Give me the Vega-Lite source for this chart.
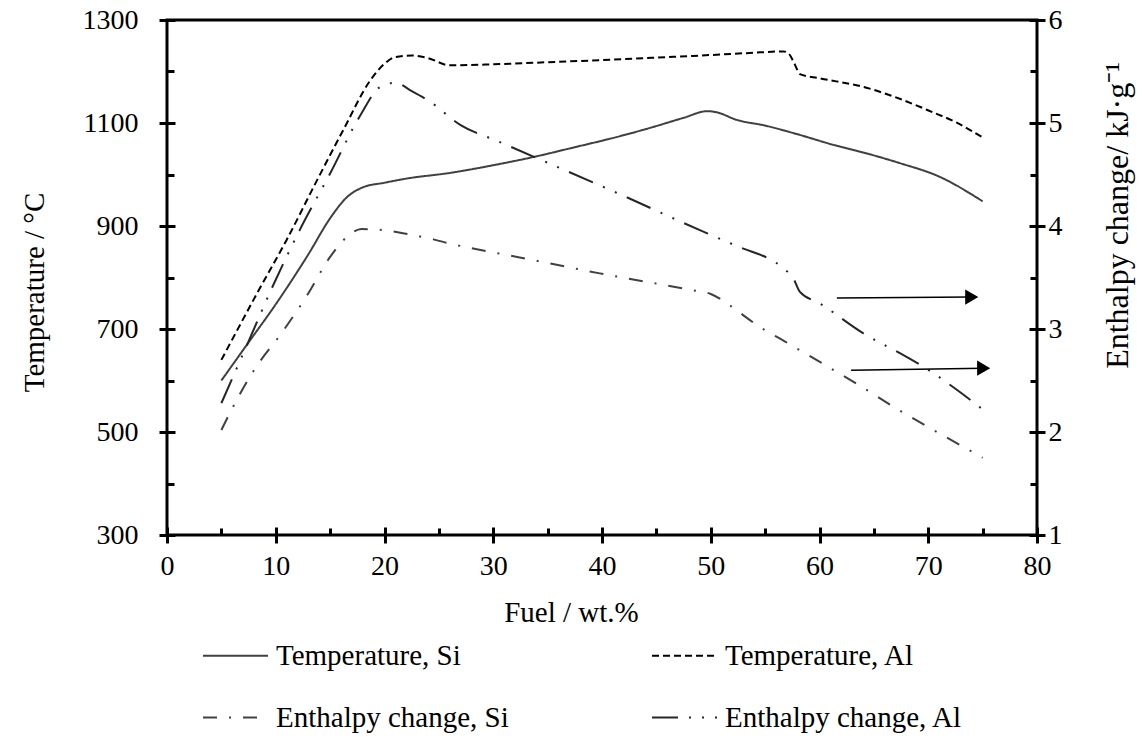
{
  "$schema": "https://vega.github.io/schema/vega-lite/v6.json",
  "width": 870,
  "height": 515,
  "autosize": {"type": "none"},
  "padding": {"left": 167, "top": 20, "right": 105, "bottom": 212},
  "background": "white",
  "config": {
    "view": {"stroke": "black", "strokeWidth": 3},
    "font": "Liberation Serif, Times New Roman, serif",
    "axis": {
      "grid": false,
      "domain": false,
      "tickColor": "black",
      "tickWidth": 3,
      "labelColor": "black",
      "titleColor": "black",
      "labelFont": "Liberation Serif, Times New Roman, serif",
      "titleFont": "Liberation Serif, Times New Roman, serif",
      "labelFontSize": 28,
      "titleFontSize": 29,
      "titleFontWeight": "normal",
      "labelFlush": false,
      "format": "d"
    },
    "legend": {
      "labelFont": "Liberation Serif, Times New Roman, serif",
      "labelFontSize": 29,
      "labelColor": "black",
      "labelLimit": 400
    }
  },
  "data": {
    "values": [
      {"m": "T", "s": "Temperature, Si", "x": 5, "v": 600},
      {"m": "T", "s": "Temperature, Si", "x": 7.5, "v": 674},
      {"m": "T", "s": "Temperature, Si", "x": 10, "v": 748},
      {"m": "T", "s": "Temperature, Si", "x": 13, "v": 845},
      {"m": "T", "s": "Temperature, Si", "x": 15, "v": 915},
      {"m": "T", "s": "Temperature, Si", "x": 16.5, "v": 955},
      {"m": "T", "s": "Temperature, Si", "x": 18, "v": 975},
      {"m": "T", "s": "Temperature, Si", "x": 20, "v": 984},
      {"m": "T", "s": "Temperature, Si", "x": 22, "v": 992},
      {"m": "T", "s": "Temperature, Si", "x": 26, "v": 1003},
      {"m": "T", "s": "Temperature, Si", "x": 30, "v": 1018},
      {"m": "T", "s": "Temperature, Si", "x": 33.7, "v": 1034},
      {"m": "T", "s": "Temperature, Si", "x": 37.5, "v": 1053},
      {"m": "T", "s": "Temperature, Si", "x": 41.4, "v": 1073},
      {"m": "T", "s": "Temperature, Si", "x": 44.5, "v": 1091},
      {"m": "T", "s": "Temperature, Si", "x": 47.5, "v": 1110},
      {"m": "T", "s": "Temperature, Si", "x": 49.7, "v": 1123},
      {"m": "T", "s": "Temperature, Si", "x": 50.5, "v": 1121},
      {"m": "T", "s": "Temperature, Si", "x": 52.4, "v": 1106},
      {"m": "T", "s": "Temperature, Si", "x": 55, "v": 1095},
      {"m": "T", "s": "Temperature, Si", "x": 58, "v": 1078},
      {"m": "T", "s": "Temperature, Si", "x": 61.2, "v": 1058},
      {"m": "T", "s": "Temperature, Si", "x": 64.5, "v": 1040},
      {"m": "T", "s": "Temperature, Si", "x": 67.4, "v": 1022},
      {"m": "T", "s": "Temperature, Si", "x": 71, "v": 996},
      {"m": "T", "s": "Temperature, Si", "x": 75, "v": 948},

      {"m": "T", "s": "Temperature, Al", "x": 5, "v": 640},
      {"m": "T", "s": "Temperature, Al", "x": 8.3, "v": 770},
      {"m": "T", "s": "Temperature, Al", "x": 11, "v": 873},
      {"m": "T", "s": "Temperature, Al", "x": 13.8, "v": 989},
      {"m": "T", "s": "Temperature, Al", "x": 16.2, "v": 1086},
      {"m": "T", "s": "Temperature, Al", "x": 18.7, "v": 1183},
      {"m": "T", "s": "Temperature, Al", "x": 20, "v": 1215},
      {"m": "T", "s": "Temperature, Al", "x": 21, "v": 1228},
      {"m": "T", "s": "Temperature, Al", "x": 22.5, "v": 1231},
      {"m": "T", "s": "Temperature, Al", "x": 24, "v": 1226},
      {"m": "T", "s": "Temperature, Al", "x": 26, "v": 1212},
      {"m": "T", "s": "Temperature, Al", "x": 30, "v": 1214},
      {"m": "T", "s": "Temperature, Al", "x": 35, "v": 1218},
      {"m": "T", "s": "Temperature, Al", "x": 39.8, "v": 1222},
      {"m": "T", "s": "Temperature, Al", "x": 45, "v": 1227},
      {"m": "T", "s": "Temperature, Al", "x": 50, "v": 1232},
      {"m": "T", "s": "Temperature, Al", "x": 53.6, "v": 1236},
      {"m": "T", "s": "Temperature, Al", "x": 56.7, "v": 1239},
      {"m": "T", "s": "Temperature, Al", "x": 57.2, "v": 1234},
      {"m": "T", "s": "Temperature, Al", "x": 57.7, "v": 1215},
      {"m": "T", "s": "Temperature, Al", "x": 58.2, "v": 1195},
      {"m": "T", "s": "Temperature, Al", "x": 60, "v": 1187},
      {"m": "T", "s": "Temperature, Al", "x": 64.4, "v": 1168},
      {"m": "T", "s": "Temperature, Al", "x": 67.5, "v": 1146},
      {"m": "T", "s": "Temperature, Al", "x": 70.4, "v": 1121},
      {"m": "T", "s": "Temperature, Al", "x": 72.5, "v": 1102},
      {"m": "T", "s": "Temperature, Al", "x": 75, "v": 1072},

      {"m": "E", "s": "Enthalpy change, Si", "x": 5, "v": 2.02},
      {"m": "E", "s": "Enthalpy change, Si", "x": 6.1, "v": 2.25},
      {"m": "E", "s": "Enthalpy change, Si", "x": 8, "v": 2.6},
      {"m": "E", "s": "Enthalpy change, Si", "x": 10.6, "v": 2.97},
      {"m": "E", "s": "Enthalpy change, Si", "x": 12.9, "v": 3.33},
      {"m": "E", "s": "Enthalpy change, Si", "x": 15, "v": 3.7},
      {"m": "E", "s": "Enthalpy change, Si", "x": 16.5, "v": 3.89},
      {"m": "E", "s": "Enthalpy change, Si", "x": 17.9, "v": 3.97},
      {"m": "E", "s": "Enthalpy change, Si", "x": 19.9, "v": 3.96},
      {"m": "E", "s": "Enthalpy change, Si", "x": 21.7, "v": 3.93},
      {"m": "E", "s": "Enthalpy change, Si", "x": 24.5, "v": 3.87},
      {"m": "E", "s": "Enthalpy change, Si", "x": 26, "v": 3.83},
      {"m": "E", "s": "Enthalpy change, Si", "x": 32.2, "v": 3.7},
      {"m": "E", "s": "Enthalpy change, Si", "x": 39.8, "v": 3.54},
      {"m": "E", "s": "Enthalpy change, Si", "x": 48.1, "v": 3.38},
      {"m": "E", "s": "Enthalpy change, Si", "x": 50, "v": 3.34},
      {"m": "E", "s": "Enthalpy change, Si", "x": 51.2, "v": 3.27},
      {"m": "E", "s": "Enthalpy change, Si", "x": 52.4, "v": 3.18},
      {"m": "E", "s": "Enthalpy change, Si", "x": 54.5, "v": 3.02},
      {"m": "E", "s": "Enthalpy change, Si", "x": 56.8, "v": 2.88},
      {"m": "E", "s": "Enthalpy change, Si", "x": 60.2, "v": 2.67},
      {"m": "E", "s": "Enthalpy change, Si", "x": 63.7, "v": 2.45},
      {"m": "E", "s": "Enthalpy change, Si", "x": 67.2, "v": 2.22},
      {"m": "E", "s": "Enthalpy change, Si", "x": 70.8, "v": 2.0},
      {"m": "E", "s": "Enthalpy change, Si", "x": 75, "v": 1.75},

      {"m": "E", "s": "Enthalpy change, Al", "x": 5, "v": 2.28},
      {"m": "E", "s": "Enthalpy change, Al", "x": 7.5, "v": 2.88},
      {"m": "E", "s": "Enthalpy change, Al", "x": 9.7, "v": 3.41},
      {"m": "E", "s": "Enthalpy change, Al", "x": 12.2, "v": 3.96},
      {"m": "E", "s": "Enthalpy change, Al", "x": 15, "v": 4.51},
      {"m": "E", "s": "Enthalpy change, Al", "x": 17.7, "v": 5.06},
      {"m": "E", "s": "Enthalpy change, Al", "x": 19.6, "v": 5.35},
      {"m": "E", "s": "Enthalpy change, Al", "x": 21, "v": 5.39},
      {"m": "E", "s": "Enthalpy change, Al", "x": 22.5, "v": 5.31},
      {"m": "E", "s": "Enthalpy change, Al", "x": 24, "v": 5.22},
      {"m": "E", "s": "Enthalpy change, Al", "x": 27, "v": 4.98},
      {"m": "E", "s": "Enthalpy change, Al", "x": 30.5, "v": 4.82},
      {"m": "E", "s": "Enthalpy change, Al", "x": 34, "v": 4.66},
      {"m": "E", "s": "Enthalpy change, Al", "x": 41.4, "v": 4.32},
      {"m": "E", "s": "Enthalpy change, Al", "x": 49, "v": 3.96},
      {"m": "E", "s": "Enthalpy change, Al", "x": 53, "v": 3.78},
      {"m": "E", "s": "Enthalpy change, Al", "x": 55.2, "v": 3.69},
      {"m": "E", "s": "Enthalpy change, Al", "x": 56.8, "v": 3.58},
      {"m": "E", "s": "Enthalpy change, Al", "x": 57.6, "v": 3.49},
      {"m": "E", "s": "Enthalpy change, Al", "x": 58.2, "v": 3.36},
      {"m": "E", "s": "Enthalpy change, Al", "x": 60, "v": 3.25},
      {"m": "E", "s": "Enthalpy change, Al", "x": 64, "v": 2.96},
      {"m": "E", "s": "Enthalpy change, Al", "x": 68, "v": 2.73},
      {"m": "E", "s": "Enthalpy change, Al", "x": 70.2, "v": 2.59},
      {"m": "E", "s": "Enthalpy change, Al", "x": 72.5, "v": 2.42},
      {"m": "E", "s": "Enthalpy change, Al", "x": 75, "v": 2.22},

      {"m": "A", "s": "arrow", "x": 61.6, "x2": 74.0, "v": 3.30, "v2": 3.31},
      {"m": "A", "s": "arrow", "x": 62.9, "x2": 75.1, "v": 2.60, "v2": 2.62}
    ]
  },
  "layer": [
    {
      "transform": [{"filter": "datum.m == 'T'"}],
      "mark": {"type": "line", "strokeWidth": 2, "interpolate": "monotone"},
      "encoding": {
        "x": {
          "field": "x", "type": "quantitative",
          "scale": {"domain": [0, 80], "nice": false},
          "axis": {"orient": "bottom", "values": [0, 10, 20, 30, 40, 50, 60, 70, 80], "tickSize": 16, "offset": -8, "labelPadding": 9, "title": "Fuel / wt.%", "titlePadding": 18, "titleX": 404}
        },
        "y": {
          "field": "v", "type": "quantitative",
          "scale": {"domain": [300, 1300], "nice": false, "zero": false},
          "axis": {"orient": "left", "values": [300, 500, 700, 900, 1100, 1300], "tickSize": 16, "offset": -8, "labelPadding": 21, "title": "Temperature / °C", "titlePadding": 33, "titleY": 272}
        },
        "color": {
          "field": "s", "type": "nominal",
          "scale": {"domain": ["Temperature, Si", "Enthalpy change, Si", "Temperature, Al", "Enthalpy change, Al"], "range": ["#404040", "#404040", "#000000", "#262626"]},
          "legend": {"title": null, "orient": "none", "legendX": 35, "legendY": 602, "columns": 2, "columnPadding": 139, "rowPadding": 13, "symbolType": "stroke", "symbolSize": 4225, "symbolStrokeWidth": 2, "labelOffset": 7}
        },
        "strokeDash": {
          "field": "s", "type": "nominal",
          "scale": {"domain": ["Temperature, Si", "Enthalpy change, Si", "Temperature, Al", "Enthalpy change, Al"], "range": [[1, 0], [14, 12, 2, 12], [7, 4], [26, 11, 2, 11, 2, 11]]},
          "legend": {"title": null, "orient": "none", "legendX": 35, "legendY": 602, "columns": 2, "columnPadding": 139, "rowPadding": 13, "symbolType": "stroke", "symbolSize": 4225, "symbolStrokeWidth": 2, "labelOffset": 7}
        }
      }
    },
    {
      "transform": [{"filter": "datum.m == 'E'"}],
      "mark": {"type": "line", "strokeWidth": 2, "interpolate": "monotone"},
      "encoding": {
        "x": {"field": "x", "type": "quantitative", "scale": {"domain": [0, 80], "nice": false}, "axis": null},
        "y": {
          "field": "v", "type": "quantitative",
          "scale": {"domain": [1, 6], "nice": false, "zero": false},
          "axis": {"orient": "right", "values": [1, 2, 3, 4, 5, 6], "tickSize": 16, "offset": -8, "labelPadding": 3, "title": "Enthalpy change/ kJ·g⁻¹", "titleFontSize": 32, "titleAngle": 270, "titleBaseline": "top", "titlePadding": 40, "titleY": 195}
        },
        "color": {"field": "s", "type": "nominal", "scale": {"domain": ["Temperature, Si", "Enthalpy change, Si", "Temperature, Al", "Enthalpy change, Al"], "range": ["#404040", "#404040", "#000000", "#262626"]}},
        "strokeDash": {"field": "s", "type": "nominal", "scale": {"domain": ["Temperature, Si", "Enthalpy change, Si", "Temperature, Al", "Enthalpy change, Al"], "range": [[1, 0], [14, 12, 2, 12], [7, 4], [26, 11, 2, 11, 2, 11]]}}
      }
    },
    {
      "transform": [{"filter": "datum.m == 'T'"}],
      "mark": {"type": "point", "opacity": 0},
      "encoding": {
        "x": {
          "field": "x", "type": "quantitative", "scale": {"domain": [0, 80], "nice": false},
          "axis": {"orient": "bottom", "values": [5, 15, 25, 35, 45, 55, 65, 75], "tickSize": 7, "offset": -7, "labels": false, "title": null}
        },
        "y": {
          "field": "v", "type": "quantitative", "scale": {"domain": [300, 1300], "nice": false, "zero": false},
          "axis": {"orient": "left", "values": [400, 600, 800, 1000, 1200], "tickSize": 7, "offset": -7, "labels": false, "title": null}
        }
      }
    },
    {
      "transform": [{"filter": "datum.m == 'E'"}],
      "mark": {"type": "point", "opacity": 0},
      "encoding": {
        "x": {"field": "x", "type": "quantitative", "scale": {"domain": [0, 80], "nice": false}, "axis": null},
        "y": {
          "field": "v", "type": "quantitative", "scale": {"domain": [1, 6], "nice": false, "zero": false},
          "axis": {"orient": "right", "values": [1.5, 2.5, 3.5, 4.5, 5.5], "tickSize": 7, "offset": -7, "labels": false, "title": null}
        }
      }
    },
    {
      "transform": [{"filter": "datum.m == 'A'"}],
      "mark": {"type": "rule", "color": "black", "strokeWidth": 1.5},
      "encoding": {
        "x": {"field": "x", "type": "quantitative", "scale": {"domain": [0, 80], "nice": false}, "axis": null},
        "x2": {"field": "x2"},
        "y": {"field": "v", "type": "quantitative", "scale": {"domain": [1, 6], "nice": false, "zero": false}, "axis": null},
        "y2": {"field": "v2"}
      }
    },
    {
      "transform": [{"filter": "datum.m == 'A'"}],
      "mark": {"type": "point", "shape": "triangle-right", "filled": true, "color": "black", "opacity": 1, "size": 230},
      "encoding": {
        "x": {"field": "x2", "type": "quantitative", "scale": {"domain": [0, 80], "nice": false}, "axis": null},
        "y": {"field": "v2", "type": "quantitative", "scale": {"domain": [1, 6], "nice": false, "zero": false}, "axis": null}
      }
    }
  ],
  "resolve": {"scale": {"y": "independent"}, "axis": {"x": "independent", "y": "independent"}}
}
